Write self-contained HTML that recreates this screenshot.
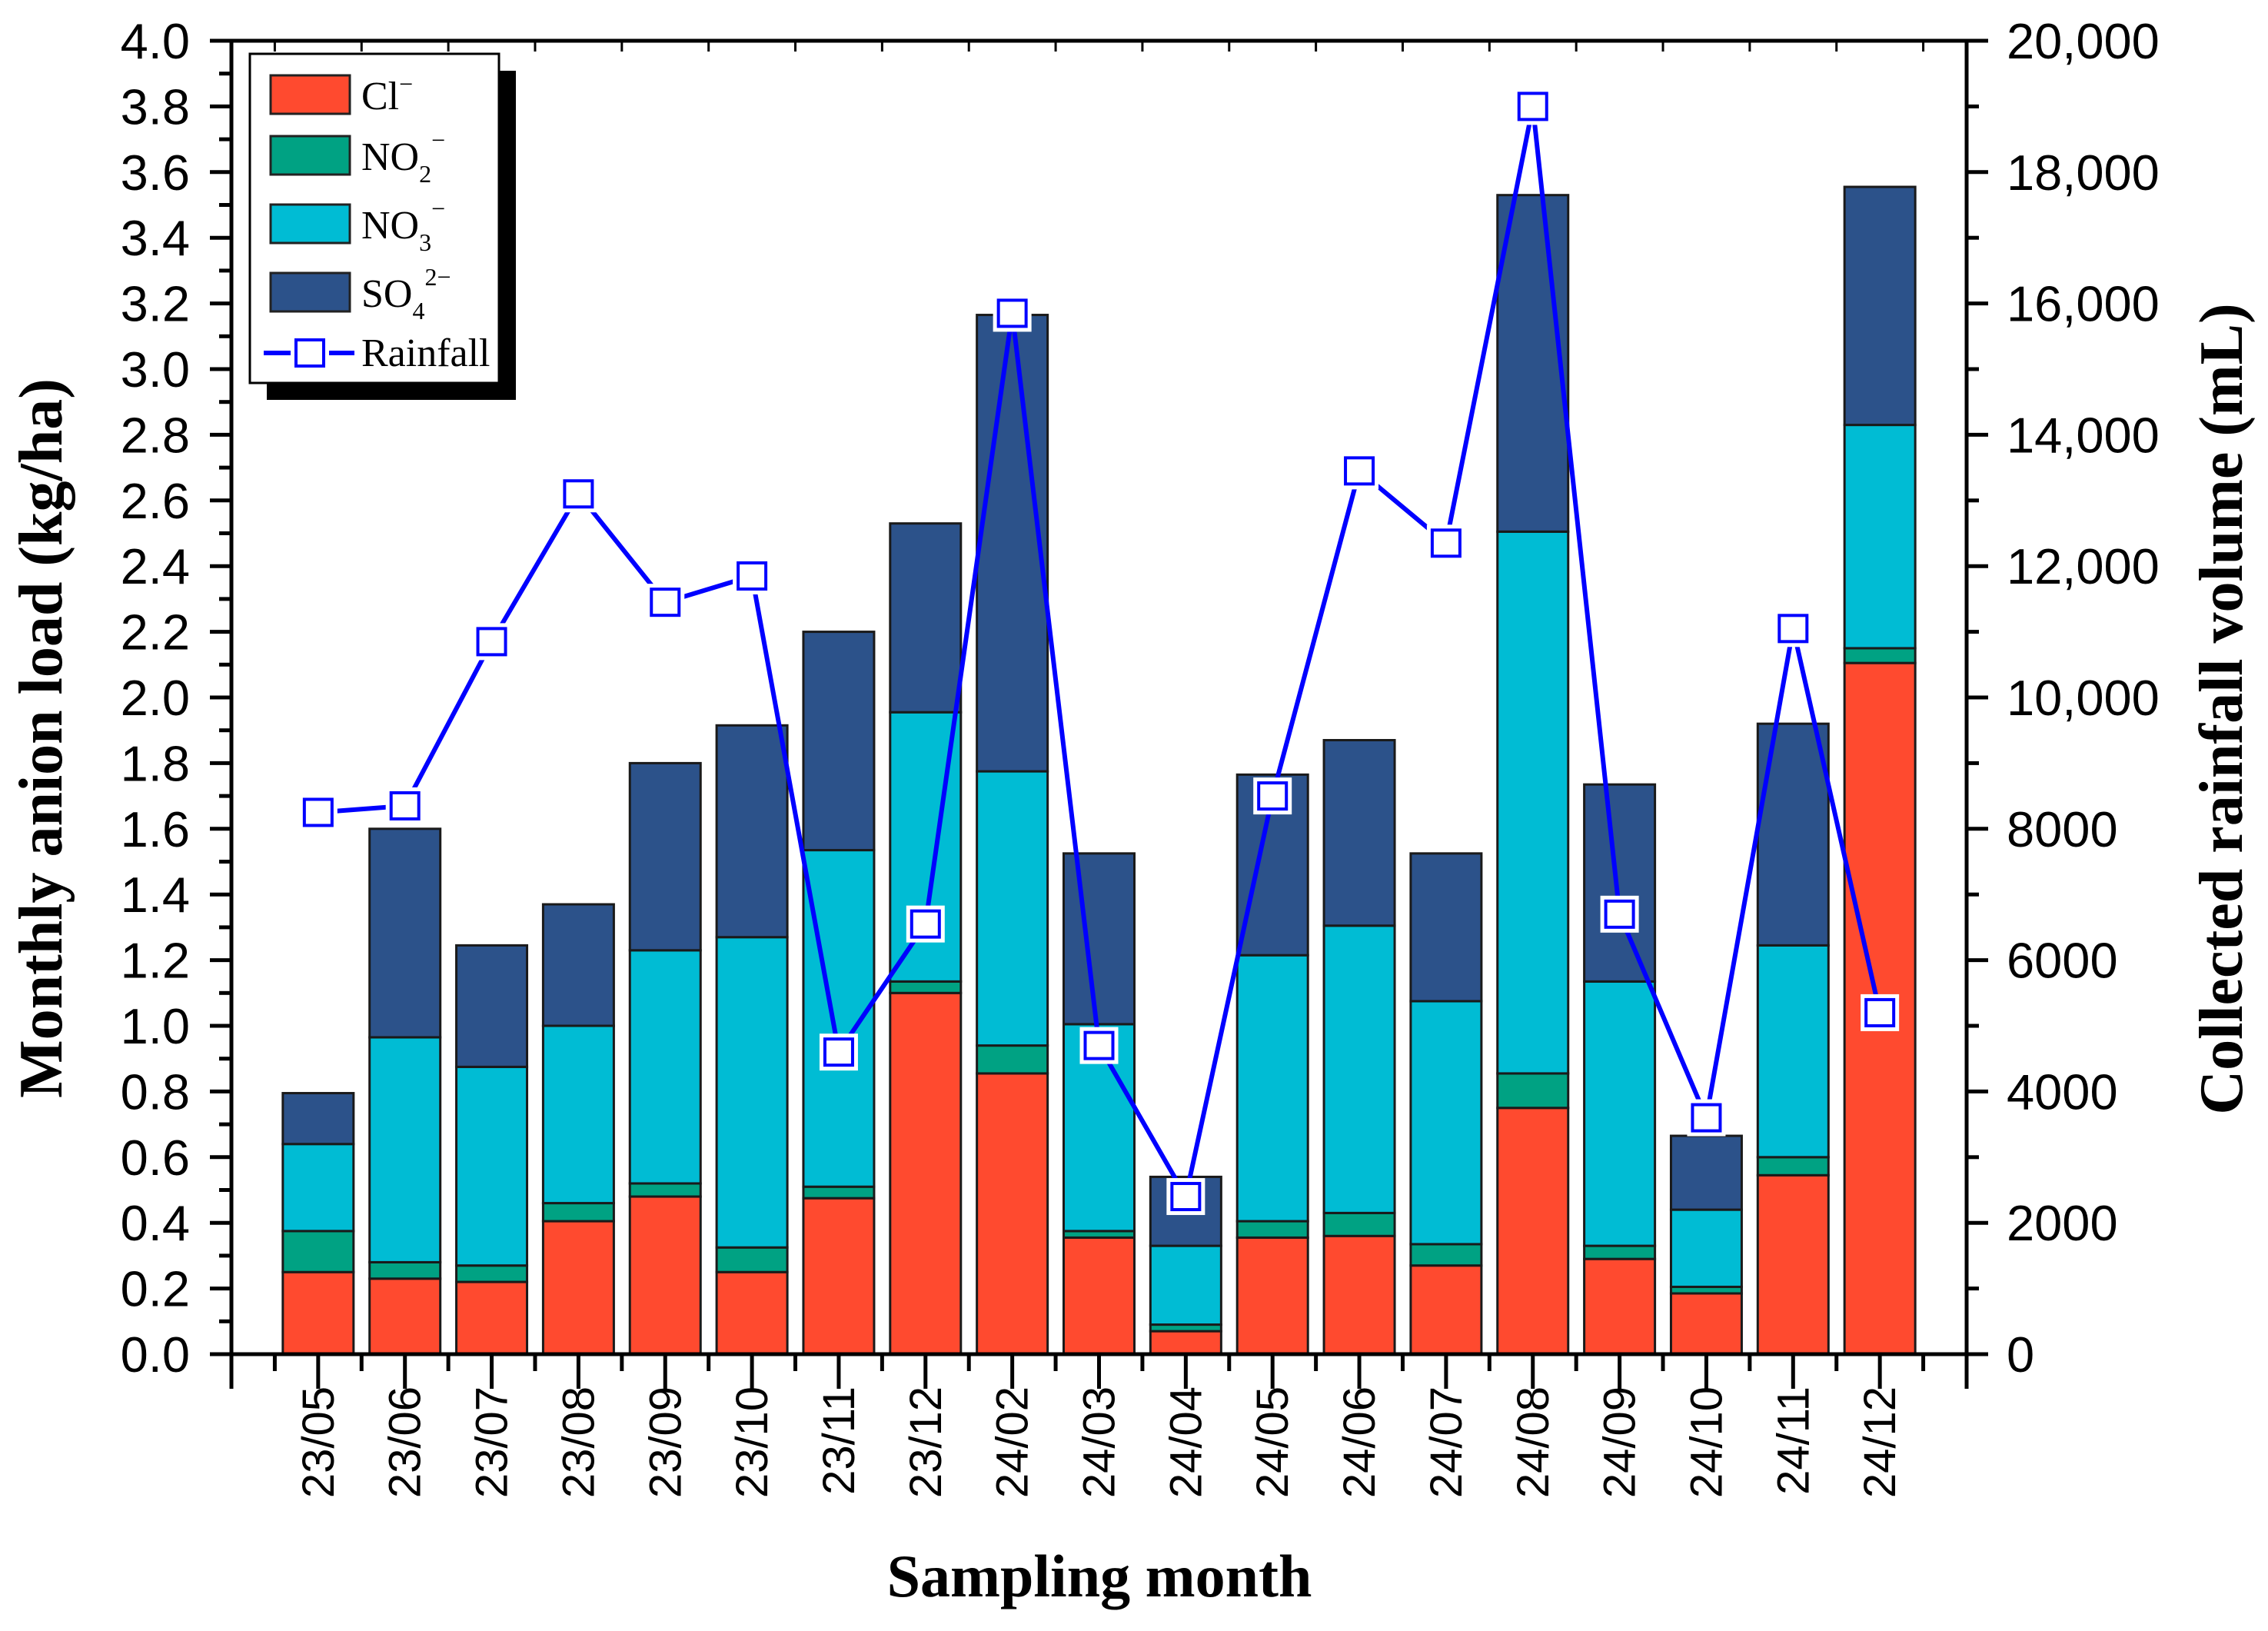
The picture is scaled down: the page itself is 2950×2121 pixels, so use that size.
<!DOCTYPE html>
<html><head><meta charset="utf-8">
<style>
html,body{margin:0;padding:0;background:#fff;}
svg{display:block;}
</style></head>
<body>
<svg id="chart" width="2950" height="2121" viewBox="0 0 2950 2121" xmlns="http://www.w3.org/2000/svg">
<g id="bars"></g>
<g id="rain"></g>
<g id="axes"></g>
<g id="legend">
  <rect x="347" y="92" width="324" height="428" fill="#000"/>
  <rect x="325" y="70" width="324" height="428" fill="#fff" stroke="#000" stroke-width="3"/>
  <rect x="352" y="98" width="103" height="50" fill="#ff4a2f" stroke="#222" stroke-width="3"/>
  <text x="470" y="142" font-family="Liberation Serif, serif" font-size="52">Cl<tspan dy="-22" font-size="32">−</tspan></text>
  <rect x="352" y="177" width="103" height="50" fill="#00a283" stroke="#222" stroke-width="3"/>
  <text x="470" y="221" font-family="Liberation Serif, serif" font-size="52">NO<tspan dy="16" font-size="32">2</tspan><tspan dy="-44" font-size="32">−</tspan></text>
  <rect x="352" y="266" width="103" height="50" fill="#00bcd4" stroke="#222" stroke-width="3"/>
  <text x="470" y="310" font-family="Liberation Serif, serif" font-size="52">NO<tspan dy="16" font-size="32">3</tspan><tspan dy="-44" font-size="32">−</tspan></text>
  <rect x="352" y="355" width="103" height="50" fill="#2c528a" stroke="#222" stroke-width="3"/>
  <text x="470" y="399" font-family="Liberation Serif, serif" font-size="52">SO<tspan dy="16" font-size="32">4</tspan><tspan dy="-44" font-size="32">2−</tspan></text>
  <line x1="343" y1="459" x2="461" y2="459" stroke="#0000ff" stroke-width="6"/>
  <rect x="385" y="442" width="36" height="34" fill="#fff" stroke="#fff" stroke-width="14"/>
  <rect x="385" y="442" width="36" height="34" fill="#fff" stroke="#0000ff" stroke-width="4"/>
  <text x="470" y="476" font-family="Liberation Serif, serif" font-size="52">Rainfall</text>
</g>
<text transform="translate(80,960) rotate(-90)" text-anchor="middle" font-family="Liberation Serif, serif" font-weight="bold" font-size="80">Monthly anion load (kg/ha)</text>
<text transform="translate(2916,922) rotate(-90)" text-anchor="middle" font-family="Liberation Serif, serif" font-weight="bold" font-size="80">Collected rainfall volume (mL)</text>
<text x="1430" y="2076" text-anchor="middle" font-family="Liberation Serif, serif" font-weight="bold" font-size="78">Sampling month</text>
</svg>
<script>
const categories = ["23/05","23/06","23/07","23/08","23/09","23/10","23/11","23/12","24/02","24/03","24/04","24/05","24/06","24/07","24/08","24/09","24/10","24/11","24/12"];
const clValues  = [0.25,0.23,0.22,0.405,0.48,0.25,0.475,1.10,0.855,0.355,0.07,0.355,0.36,0.27,0.75,0.29,0.185,0.545,2.105];
const no2Values = [0.125,0.05,0.05,0.055,0.04,0.075,0.035,0.035,0.085,0.02,0.02,0.05,0.07,0.065,0.105,0.04,0.02,0.055,0.045];
const no3Values = [0.265,0.685,0.605,0.54,0.71,0.945,1.025,0.82,0.835,0.63,0.24,0.81,0.875,0.74,1.65,0.805,0.235,0.645,0.68];
const so4Values = [0.155,0.635,0.37,0.37,0.57,0.645,0.665,0.575,1.39,0.52,0.21,0.55,0.565,0.45,1.025,0.60,0.225,0.675,0.725];
const rainfall  = [8250,8350,10850,13100,11450,11850,4600,6550,15850,4700,2400,8500,13450,12350,19000,6700,3600,11050,5200];
const yTicks = ["0.0","0.2","0.4","0.6","0.8","1.0","1.2","1.4","1.6","1.8","2.0","2.2","2.4","2.6","2.8","3.0","3.2","3.4","3.6","3.8","4.0"];
const y2Ticks = ["0","2000","4000","6000","8000","10,000","12,000","14,000","16,000","18,000","20,000"];

const NS="http://www.w3.org/2000/svg";
const L=301,R=2558,T=53,B=1761;
const step=(R-L)/(categories.length+1);
const xPos=i=>L+step*(i+1);
const yPos=v=>B-(v/4)*(B-T);
const y2Pos=v=>B-(v/20000)*(B-T);
function mk(tag,attrs,parent){const e=document.createElementNS(NS,tag);for(const k in attrs)e.setAttribute(k,attrs[k]);parent.appendChild(e);return e;}

const bars=document.getElementById('bars');
const series=[[clValues,'#ff4a2f','cl'],[no2Values,'#00a283','no2'],[no3Values,'#00bcd4','no3'],[so4Values,'#2c528a','so4']];
const bw=92;
categories.forEach((c,i)=>{
  let base=0;
  series.forEach(([vals,col,nm])=>{
    const v=vals[i];
    const r=mk('rect',{x:xPos(i)-bw/2,y:yPos(base+v),width:bw,height:yPos(base)-yPos(base+v),fill:col,stroke:'#1a1a1a','stroke-width':3},bars);
    
    
    base+=v;
  });
});

const rain=document.getElementById('rain');
const pts=rainfall.map((v,i)=>xPos(i)+','+y2Pos(v)).join(' ');
const pl=mk('polyline',{points:pts,fill:'none',stroke:'#0000ff','stroke-width':6,'stroke-linejoin':'miter'},rain);


rainfall.forEach((v,i)=>{
  mk('rect',{x:xPos(i)-18,y:y2Pos(v)-17,width:36,height:34,fill:'#fff',stroke:'#fff','stroke-width':14},rain);
  const m=mk('rect',{x:xPos(i)-18,y:y2Pos(v)-17,width:36,height:34,fill:'#fff',stroke:'#0000ff','stroke-width':4},rain);
  
  
});

const ax=document.getElementById('axes');
const frame=mk('rect',{x:L,y:T,width:R-L,height:B-T,fill:'none',stroke:'#000','stroke-width':5},ax);


const font='"Liberation Sans", Arial, sans-serif';
yTicks.forEach((t,i)=>{
  const y=yPos(i*0.2);
  mk('line',{x1:L-28,y1:y,x2:L,y2:y,stroke:'#000','stroke-width':5},ax);
  if(i<yTicks.length-1){const ym=yPos(i*0.2+0.1);mk('line',{x1:L-16,y1:ym,x2:L,y2:ym,stroke:'#000','stroke-width':5},ax);}
  const tx=mk('text',{x:L-54,y:y+23,'text-anchor':'end','font-family':font,'font-size':65},ax);
  tx.textContent=t;
  
  
});
y2Ticks.forEach((t,i)=>{
  const y=y2Pos(i*2000);
  mk('line',{x1:R,y1:y,x2:R+28,y2:y,stroke:'#000','stroke-width':5},ax);
  if(i<y2Ticks.length-1){const ym=y2Pos(i*2000+1000);mk('line',{x1:R,y1:ym,x2:R+16,y2:ym,stroke:'#000','stroke-width':5},ax);}
  const tx=mk('text',{x:R+52,y:y+23,'text-anchor':'start','font-family':font,'font-size':65},ax);
  tx.textContent=t;
  
  
});
for(let i=0;i<=categories.length;i++){
  const xm=L+step*(i+0.5);
  mk('line',{x1:xm,y1:B,x2:xm,y2:B+22,stroke:'#000','stroke-width':5},ax);
  mk('line',{x1:xm,y1:T,x2:xm,y2:T+14,stroke:'#000','stroke-width':3},ax);
}
mk('line',{x1:L,y1:B,x2:L,y2:B+45,stroke:'#000','stroke-width':5},ax);
mk('line',{x1:R,y1:B,x2:R,y2:B+45,stroke:'#000','stroke-width':5},ax);
categories.forEach((c,i)=>{
  const x=xPos(i);
  mk('line',{x1:x,y1:B,x2:x,y2:B+45,stroke:'#000','stroke-width':5},ax);
  const tx=mk('text',{transform:'translate('+(x+20)+','+(B+42)+') rotate(-90)','text-anchor':'end','font-family':font,'font-size':58},ax);
  tx.textContent=c;
  
  
});
</script>
</body></html>
